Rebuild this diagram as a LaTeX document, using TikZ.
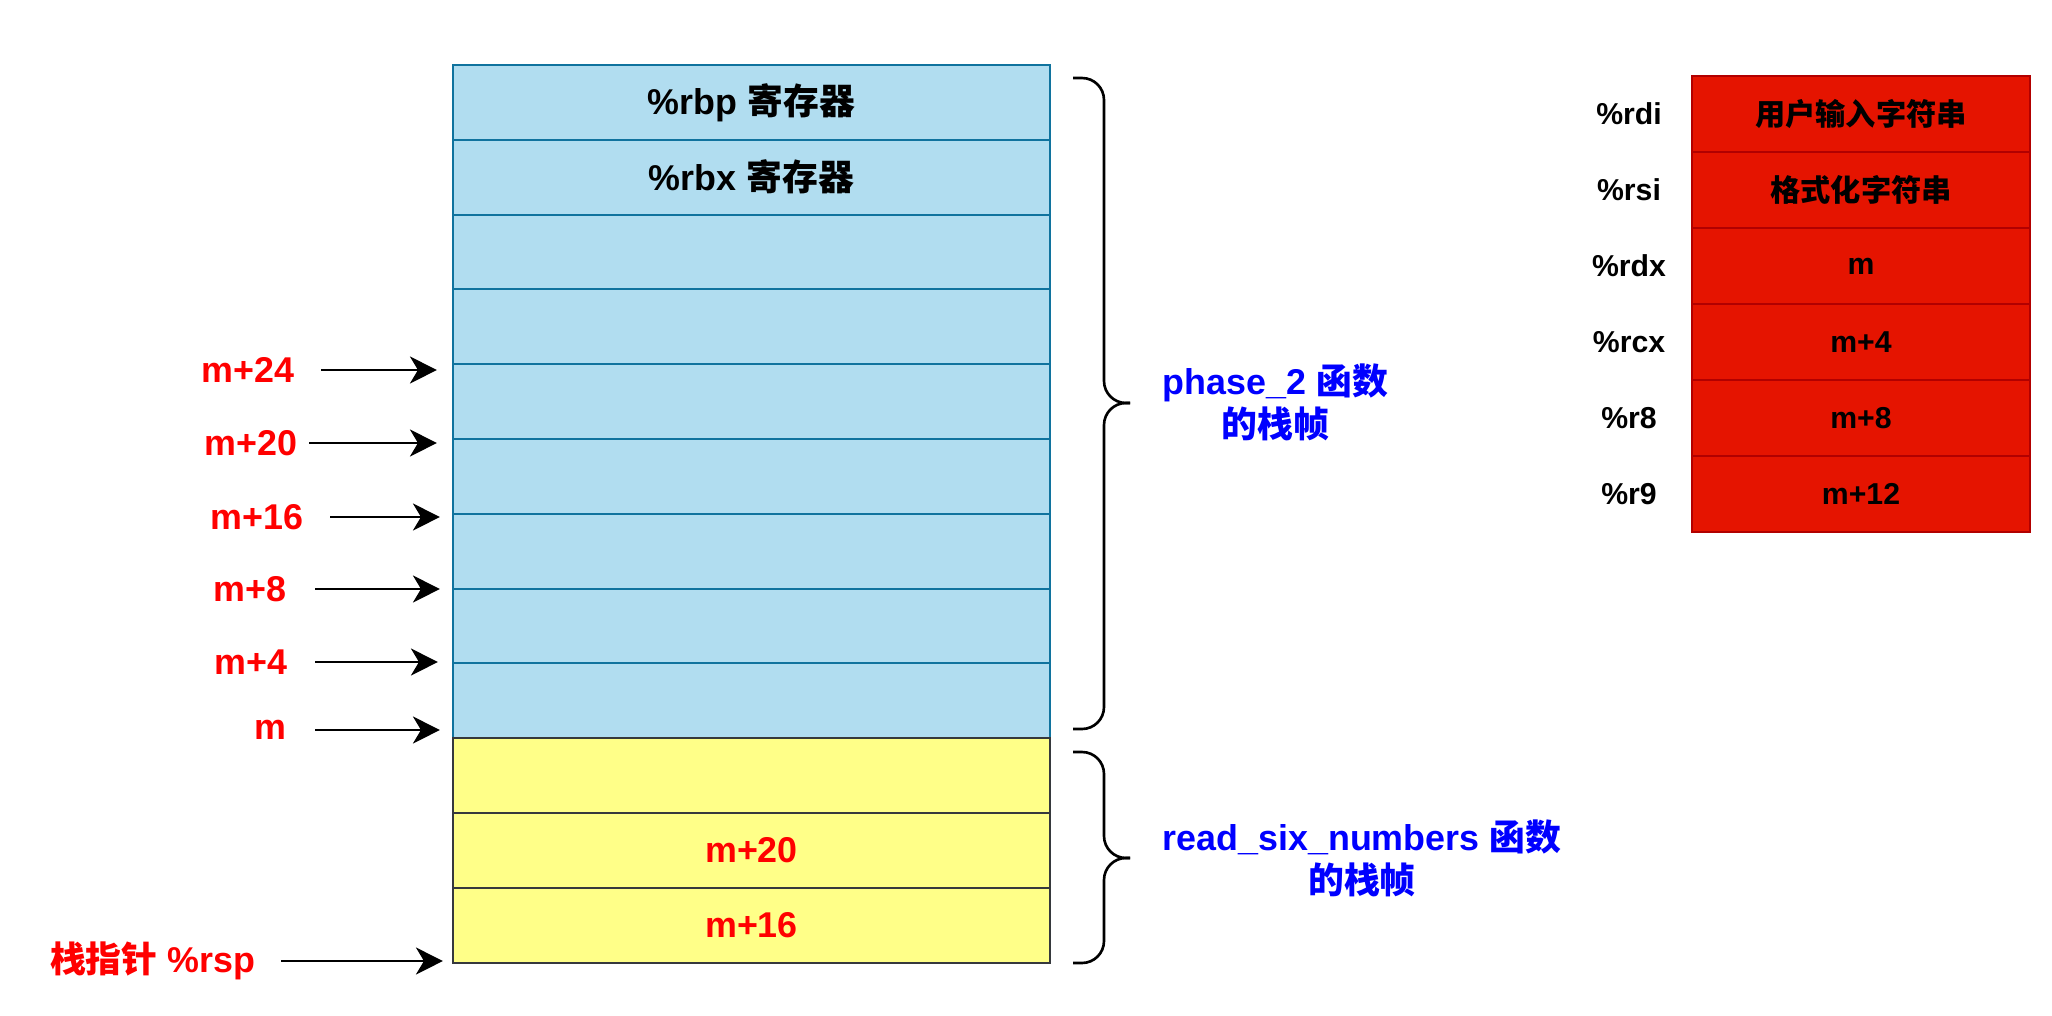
\documentclass[tikz,border=0pt]{standalone}
\usepackage{fontspec}
\setmainfont{Liberation Sans}
\newfontfamily\cjk{Noto Sans CJK SC}
\newcommand{\zh}[1]{{\cjk #1}}
\usepackage{tikz}
\usetikzlibrary{arrows.meta}

\definecolor{stackblue}{HTML}{B1DDF0}
\definecolor{stackline}{HTML}{10739E}
\definecolor{stackyellow}{HTML}{FFFF88}
\definecolor{yellowline}{HTML}{36393D}
\definecolor{regred}{HTML}{E51400}
\definecolor{regline}{HTML}{B20000}
\definecolor{addrred}{HTML}{FF0000}
\definecolor{framblue}{HTML}{0000FF}

\begin{document}
\begin{tikzpicture}[
  cell/.style={draw, line width=0.6pt, minimum width=5.97cm, minimum height=0.748cm, inner sep=0pt, font=\fontsize{10.2}{12}\selectfont\bfseries},
  bluecell/.style={cell, fill=stackblue, draw=stackline},
  yellowcell/.style={cell, fill=stackyellow, draw=yellowline, text=addrred},
  regcell/.style={draw=regline, fill=regred, line width=0.6pt, minimum width=3.38cm, minimum height=0.76cm, inner sep=0pt, font=\fontsize{8.6}{10}\selectfont\bfseries},
  reglabel/.style={inner sep=0pt, font=\fontsize{8.6}{10}\selectfont\bfseries},
  addr/.style={text=addrred, inner sep=0pt, anchor=east, font=\fontsize{10.2}{12}\selectfont\bfseries},
  ptr/.style={line width=0.6pt, -{Stealth[length=0.27cm, width=0.27cm, inset=0.08cm]}},
  curly/.style={line width=0.75pt, rounded corners=0.22cm},
  frame/.style={text=framblue, align=center, anchor=west, inner sep=0pt, font=\fontsize{10.2}{12.2}\selectfont\bfseries}
]
\useasboundingbox (0,0) rectangle (20.52,10.15);

% Stack of phase_2
\node[bluecell] (s1) at (7.515,9.126) {\%rbp \zh{寄存器}};
\node[bluecell] (s2) at (7.515,8.378) {\%rbx \zh{寄存器}};
\node[bluecell] (s3) at (7.515,7.630) {};
\node[bluecell] (s4) at (7.515,6.882) {};
\node[bluecell] (s5) at (7.515,6.134) {};
\node[bluecell] (s6) at (7.515,5.386) {};
\node[bluecell] (s7) at (7.515,4.638) {};
\node[bluecell] (s8) at (7.515,3.890) {};
\node[bluecell] (s9) at (7.515,3.142) {};

% Stack of read_six_numbers
\node[yellowcell] (s10) at (7.515,2.394) {};
\node[yellowcell] (s11) at (7.515,1.646) {m+20};
\node[yellowcell] (s12) at (7.515,0.898) {m+16};

% Addresses
\node[addr] (a24) at (2.95,6.45) {m+24};
\node[addr] (a20) at (2.98,5.72) {m+20};
\node[addr] (a16) at (3.04,4.98) {m+16};
\node[addr] (a8) at (2.87,4.26) {m+8};
\node[addr] (a4) at (2.88,3.53) {m+4};
\node[addr] (a0) at (2.87,2.85) {m};
\node[addr] (rsp) at (2.56,0.54) {\zh{栈指针} \%rsp};

% Arrows
\draw[ptr] ([xshift=0.26cm]a24.east) -- ([xshift=-0.15cm]a24.east -| s1.west);
\draw[ptr] ([xshift=0.11cm]a20.east) -- ([xshift=-0.15cm]a20.east -| s1.west);
\draw[ptr] ([xshift=0.26cm]a16.east) -- ([xshift=-0.12cm]a16.east -| s1.west);
\draw[ptr] ([xshift=0.28cm]a8.east) -- ([xshift=-0.12cm]a8.east -| s1.west);
\draw[ptr] ([xshift=0.27cm]a4.east) -- ([xshift=-0.14cm]a4.east -| s1.west);
\draw[ptr] ([xshift=0.28cm]a0.east) -- ([xshift=-0.12cm]a0.east -| s1.west);
\draw[ptr] ([xshift=0.25cm]rsp.east) -- ([xshift=-0.09cm]rsp.east -| s12.west);

% Braces
\draw[curly] (10.73,9.37) -- (11.04,9.37) -- (11.04,6.12) -- (11.30,6.12);
\draw[curly] (11.30,6.12) -- (11.04,6.12) -- (11.04,2.86) -- (10.73,2.86);
\draw[curly] (10.73,2.63) -- (11.04,2.63) -- (11.04,1.57) -- (11.30,1.57);
\draw[curly] (11.30,1.57) -- (11.04,1.57) -- (11.04,0.52) -- (10.73,0.52);

\node[frame] (f1) at (11.62,6.13) {phase\_2 \zh{函数}\\\zh{的栈帧}};
\node[frame] (f2) at (11.62,1.57) {read\_six\_numbers \zh{函数}\\\zh{的栈帧}};

% Registers
\node[regcell] (r1) at (18.61,9.01) {\zh{用户输入字符串}};
\node[regcell] (r2) at (18.61,8.25) {\zh{格式化字符串}};
\node[regcell] (r3) at (18.61,7.49) {m};
\node[regcell] (r4) at (18.61,6.73) {m+4};
\node[regcell] (r5) at (18.61,5.97) {m+8};
\node[regcell] (r6) at (18.61,5.21) {m+12};

\node[reglabel] (rdi) at (16.29,9.01) {\%rdi};
\node[reglabel] (rsi) at (16.29,8.25) {\%rsi};
\node[reglabel] (rdx) at (16.29,7.49) {\%rdx};
\node[reglabel] (rcx) at (16.29,6.73) {\%rcx};
\node[reglabel] (r8) at (16.29,5.97) {\%r8};
\node[reglabel] (r9) at (16.29,5.21) {\%r9};
\end{tikzpicture}
\end{document}
